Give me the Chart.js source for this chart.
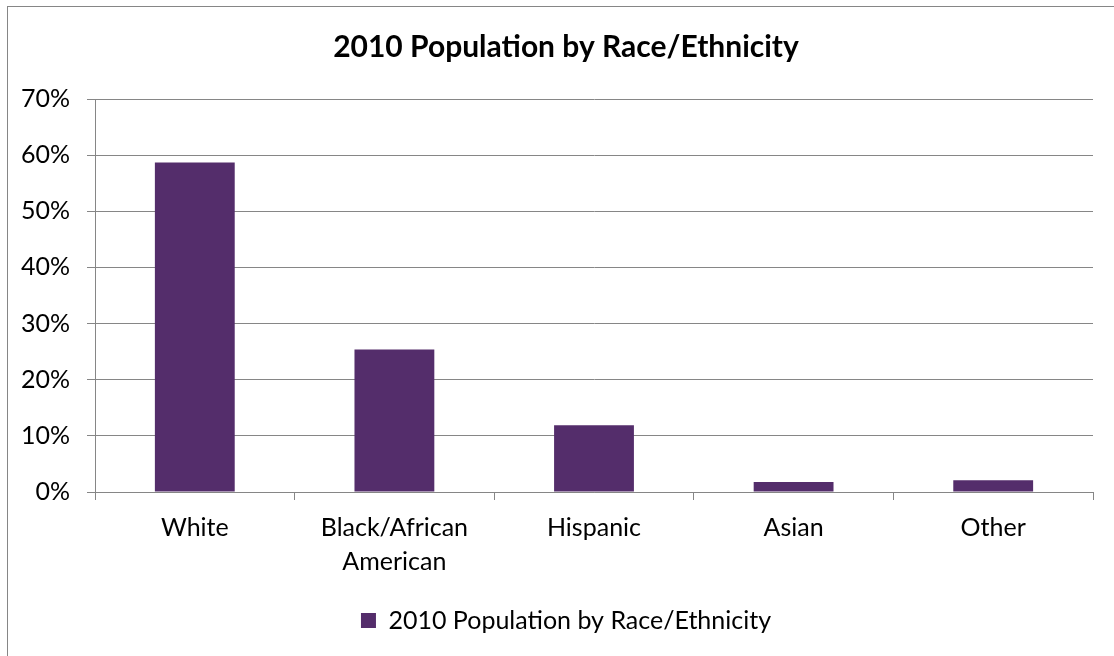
<!DOCTYPE html>
<html>
<head>
<meta charset="utf-8">
<script src="https://cdn.jsdelivr.net/npm/chart.js@4"></script>
<style>
  body { margin: 0; overflow: hidden; background: #fff; }
  #frame { position: absolute; left: 7px; top: 6px; width: 1200px; height: 700px; border: 1px solid #868686; }
  #wrap { position: absolute; left: 0; top: 0; width: 1132px; height: 656px; }
</style>
</head>
<body>
<div id="frame"></div>
<div id="wrap"><canvas id="raceChart"></canvas></div>
<script>
const categories = ["White", ["Black/African", "American"], "Hispanic", "Asian", "Other"];
const shares = [58.7, 25.4, 11.9, 1.8, 2.1];
const yTicks = [0, 10, 20, 30, 40, 50, 60, 70];
const seriesName = "2010 Population by Race/Ethnicity";

const gridGray = "#868686";

const race = document.getElementById("raceChart");
new Chart(race, {
  type: "bar",
  data: {
    labels: categories,
    datasets: [
      {
        label: seriesName,
        data: shares,
        backgroundColor: "#542D6B",
        borderWidth: 0,
        barPercentage: 0.4,
        categoryPercentage: 1,
      },
    ],
  },
  options: {
    responsive: true,
    maintainAspectRatio: false,
    animation: false,
    layout: { padding: { left: 0, right: 0, top: 0, bottom: 13 } },
    plugins: {
      title: {
        display: true,
        text: seriesName,
        color: "#000",
        font: { family: "Lato", size: 30, weight: "bold" },
        padding: { top: 29, bottom: 34 },
      },
      legend: {
        position: "bottom",
        labels: {
          color: "#000",
          font: { family: "Lato", size: 25 },
          boxWidth: 15,
          boxHeight: 15,
          padding: 20,
        },
      },
      tooltip: { enabled: false },
    },
    scales: {
      y: {
        min: 0,
        max: 70,
        afterBuildTicks: (scale) => {
          scale.ticks = yTicks.map((v) => ({ value: v }));
        },
        afterFit: (scale) => {
          scale.width = 95;
        },
        ticks: {
          color: "#000",
          font: { family: "Lato", size: 25 },
          padding: 17,
          callback: (v) => v + "%",
        },
        grid: { color: gridGray, tickLength: 8 },
        border: { display: true, color: gridGray },
      },
      // empty right gutter so the plot ends where the reference does
      gutter: {
        type: "linear",
        position: "right",
        ticks: { display: false },
        grid: { display: false },
        border: { display: false },
        afterFit: (scale) => {
          scale.width = 39;
        },
      },
      x: {
        offset: true,
        ticks: {
          color: "#000",
          font: { family: "Lato", size: 25, lineHeight: 1.36 },
          padding: 11,
          maxRotation: 0,
        },
        grid: { drawOnChartArea: false, color: gridGray, tickLength: 8, offset: true },
        border: { display: true, color: gridGray },
        afterFit: (scale) => {
          scale.height = scale.height - 2;
        },
      },
    },
  },
});
</script>
</body>
</html>
